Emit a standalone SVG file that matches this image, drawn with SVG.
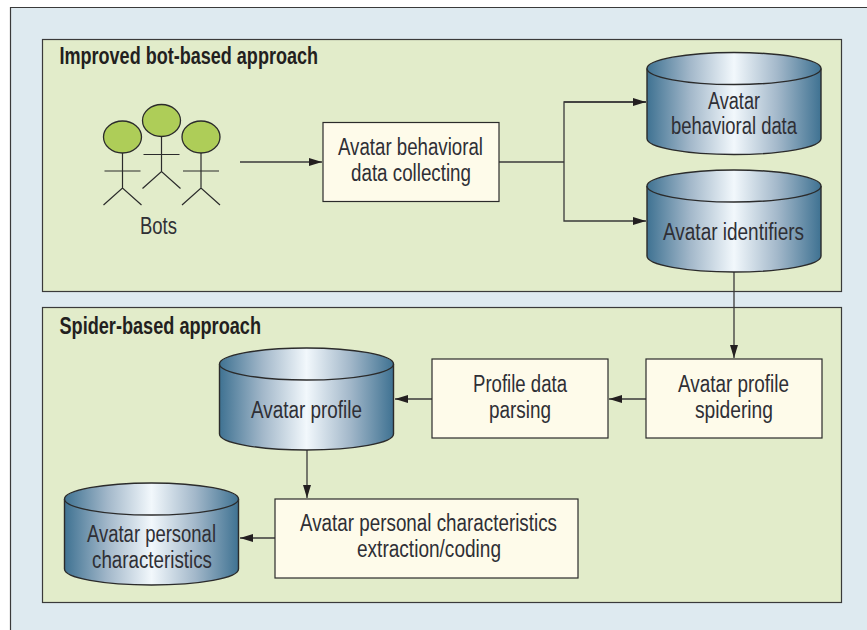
<svg xmlns="http://www.w3.org/2000/svg" width="867" height="630" viewBox="0 0 867 630">
<defs>
<linearGradient id="cyl" x1="0" y1="0" x2="1" y2="0">
<stop offset="0" stop-color="#3f7292"/><stop offset="0.25" stop-color="#a3b8ca"/><stop offset="0.5" stop-color="#f2f8fc"/><stop offset="0.75" stop-color="#a3b8ca"/><stop offset="1" stop-color="#3f7292"/>
</linearGradient>
<marker id="arrow" markerUnits="userSpaceOnUse" markerWidth="13" markerHeight="8" refX="13" refY="4" orient="auto"><path d="M0 0L13 4L0 8Z" fill="#231f20"/></marker>
<g id="db"><path class="cyl" d="M0 16V86C0 95 39 102 87 102S174 95 174 86V16"/><ellipse class="cyl" cx="87" cy="16" rx="87" ry="16"/></g>
<g id="bot"><ellipse class="head" cx="0" cy="0" rx="19" ry="16"/><path class="ln" d="M0 16V51M-18 34H18M-19 68L0 51L19 68"/></g>
</defs>
<style>
.cyl{fill:url(#cyl);stroke:#2b2b2b;stroke-width:1.4}
.head{fill:#aecd58;stroke:#2b2b2b;stroke-width:1.3}
.ln{fill:none;stroke:#2b2b2b;stroke-width:1.2}
.panel{fill:#e2ecca;stroke:#3a3a3a;stroke-width:1.2}
.box{fill:#fefbea;stroke:#2b2b2b;stroke-width:1.2}
.c{fill:none;stroke:#3a3a3a;stroke-width:1.3}
text{font-family:"Liberation Sans",Arial,sans-serif;font-size:23px;fill:#2f2f35;text-anchor:middle}
.h{font-weight:bold;font-size:23px;text-anchor:start;fill:#231f20}
</style>
<rect x="0" y="0" width="867" height="630" fill="#ffffff"/>
<path d="M867 7.5H10.5V630H867Z" fill="#deeaf0"/>
<path d="M867 7.5H10.5V630" fill="none" stroke="#3a3a3a" stroke-width="1.2"/>
<g id="panel-bot"><rect class="panel" x="42.5" y="39.5" width="799" height="252"/><text class="h" x="59.500" y="64" textLength="258.500" lengthAdjust="spacingAndGlyphs">Improved bot-based approach</text></g>
<g id="panel-spider"><rect class="panel" x="42.5" y="307.5" width="799" height="295"/><text class="h" x="59.500" y="334" textLength="201.500" lengthAdjust="spacingAndGlyphs">Spider-based approach</text></g>
<g id="connectors">
<path class="c" d="M240 162H322" marker-end="url(#arrow)"/>
<path class="c" d="M499 162H564"/>
<path class="c" d="M646 102H564V221H646" marker-end="url(#arrow)"/>
<path class="c" d="M564 102H646" marker-end="url(#arrow)"/>
<path class="c" d="M734 272V358" marker-end="url(#arrow)"/>
<path class="c" d="M646 399H609" marker-end="url(#arrow)"/>
<path class="c" d="M432 399H395" marker-end="url(#arrow)"/>
<path class="c" d="M307 450V498" marker-end="url(#arrow)"/>
<path class="c" d="M275 538H240" marker-end="url(#arrow)"/>
</g>
<g id="bots">
<use href="#bot" x="122.500" y="137"/>
<use href="#bot" x="161.500" y="120.500"/>
<use href="#bot" x="201" y="137"/>
<text x="158.500" y="234" textLength="37" lengthAdjust="spacingAndGlyphs">Bots</text>
</g>
<g id="collect"><rect class="box" x="323" y="122.500" width="176" height="79"/><text x="410.500" y="155" textLength="145" lengthAdjust="spacingAndGlyphs">Avatar behavioral</text><text x="411" y="181" textLength="120" lengthAdjust="spacingAndGlyphs">data collecting</text></g>
<g id="db-behavior"><use href="#db" x="647" y="52.500"/><text x="734" y="109" textLength="52" lengthAdjust="spacingAndGlyphs">Avatar</text><text x="734" y="134" textLength="126" lengthAdjust="spacingAndGlyphs">behavioral data</text></g>
<g id="db-identifiers"><use href="#db" x="647" y="170"/><text x="733.500" y="240" textLength="141" lengthAdjust="spacingAndGlyphs">Avatar identifiers</text></g>
<g id="spidering"><rect class="box" x="646" y="359" width="176" height="79"/><text x="733.500" y="392" textLength="111" lengthAdjust="spacingAndGlyphs">Avatar profile</text><text x="734" y="418" textLength="78" lengthAdjust="spacingAndGlyphs">spidering</text></g>
<g id="parsing"><rect class="box" x="432" y="359" width="176" height="79"/><text x="520" y="392" textLength="94" lengthAdjust="spacingAndGlyphs">Profile data</text><text x="520" y="418" textLength="62" lengthAdjust="spacingAndGlyphs">parsing</text></g>
<g id="db-profile"><use href="#db" x="219.500" y="348"/><text x="306.500" y="418" textLength="111" lengthAdjust="spacingAndGlyphs">Avatar profile</text></g>
<g id="extraction"><rect class="box" x="275" y="499" width="303" height="79"/><text x="428.500" y="531" textLength="257" lengthAdjust="spacingAndGlyphs">Avatar personal characteristics</text><text x="429" y="557" textLength="144" lengthAdjust="spacingAndGlyphs">extraction/coding</text></g>
<g id="db-personal"><use href="#db" x="64.500" y="483"/><text x="151.500" y="542" textLength="129" lengthAdjust="spacingAndGlyphs">Avatar personal</text><text x="152" y="568" textLength="120" lengthAdjust="spacingAndGlyphs">characteristics</text></g>
</svg>
